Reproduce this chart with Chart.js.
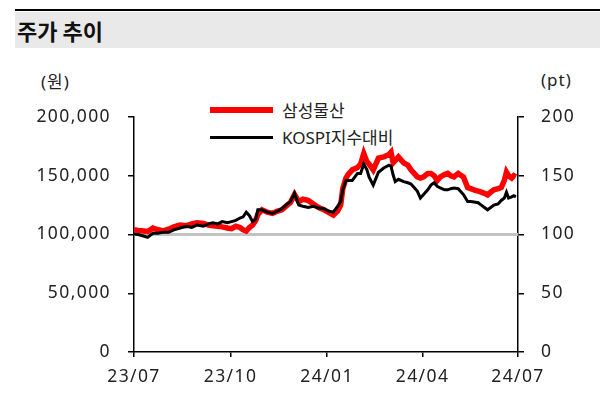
<!DOCTYPE html>
<html>
<head>
<meta charset="utf-8">
<script src="https://cdn.jsdelivr.net/npm/chart.js@4/dist/chart.umd.min.js"></script>
<style>
body{margin:0;background:#fff;font-family:"Noto Sans","Noto Sans CJK KR",sans-serif;}
#wrap{position:relative;width:603px;height:398px;overflow:hidden;}
#topline{position:absolute;left:15px;top:9px;width:585px;height:2px;background:#000;}
#band{position:absolute;left:15px;top:12px;width:585px;height:36px;background:#e9e9e9;}
#title{position:absolute;left:17px;top:14px;font:bold 22px "Noto Sans CJK KR",sans-serif;color:#111;}
.unit{position:absolute;top:68px;font-size:17px;color:#222;letter-spacing:1px;}
.leg{position:absolute;left:210px;font-size:17px;color:#222;}
.leg i{position:absolute;left:0;width:63px;}
.leg span{position:absolute;left:72px;white-space:nowrap;font-family:"Noto Sans","Noto Sans CJK KR",sans-serif;}
canvas{position:absolute;left:0;top:0;}
</style>
</head>
<body>
<div id="wrap">
<div id="topline"></div>
<div id="band"></div>
<div id="title">주가 추이</div>
<div class="unit" style="left:41px">(원)</div>
<div class="unit" style="left:541px">(pt)</div>
<div class="leg" style="top:98px"><i style="top:9px;height:6px;background:#ff0000"></i><span style="top:-1px">삼성물산</span></div>
<div class="leg" style="top:125px"><i style="top:11px;height:3px;background:#000"></i><span style="top:-1px">KOSPI지수대비</span></div>
<canvas id="c" width="603" height="398"></canvas>
</div>
<script>
// days since 2023-07-01
const days=[0,4,9,13,18,23,28,33,38,44,50,55,60,66,71,75,80,84,89,93,97,101,104,107,110,113,116,118,122,127,132,137,141,146,149,153,157,161,166,171,176,181,185,190,194,197,199,202,204,208,213,216,219,222,224,228,233,238,243,245,247,249,252,257,261,264,267,270,273,276,280,283,286,289,292,296,299,302,305,309,312,314,318,321,324,328,331,334,337,340,343,347,350,353,355,357,360,362,364];
// 삼성물산 (원)
const samsung=[104000,103500,103000,102500,105500,104000,103000,104500,106500,108000,107500,109000,110000,109500,108000,107500,107000,106500,105500,105000,107000,106000,104000,103000,106000,108000,112000,117000,121000,119000,118000,120000,121000,125000,127000,134000,128000,130000,129000,126000,123000,121000,119000,116500,120000,125000,139000,148000,151000,155000,157000,160000,169000,162000,160000,155000,165000,166000,168000,170000,161000,163000,166000,161000,159000,155000,152000,149000,148000,149000,152000,152000,150000,146000,149000,151000,152000,150000,149000,152000,150000,149000,140000,139000,138000,137000,136000,135000,133600,136000,138000,139000,140000,146000,153000,150000,148000,150000,149000];
// KOSPI지수대비 (pt)
const kospiRel=[100.5,100,98.7,97.5,101,101,102,102,104,105.5,107,106,108,107,109,110,109,111,110,111,112,114,115,119,116,111,113,121,121,119,118,120,122,126,128,135,125,124,123,124,122.5,122,120,119,124,128,138,146,146,146,152,152,160,155,149,142,153,156.6,159,158,150.6,145,147,145,144,143,140,137,131,134,138,142,144,141,139.6,138,138,139,139.6,139,136,134,128,128,127.7,127,125,123,121,123,125,126,129,131,136,131,132,133,132];
const baseDays=[0,366];
const baseVals=[100,100];
const tickDays=[0,92,184,275,366];
const tickLabels=["23/07","23/10","24/01","24/04","24/07"];

Chart.defaults.font.family="'Noto Sans', sans-serif";
Chart.defaults.font.size=17.5;
Chart.defaults.color="#222";

const pts=(xs,ys)=>xs.map((d,i)=>({x:d,y:ys[i]}));

// wider tick text like the original (canvas state gets reset on resize, so set it late)
const spacing={id:"spacing",
beforeLayout(c){c.ctx.letterSpacing="1.4px";},
beforeDraw(c){c.ctx.letterSpacing="1.4px";}};

new Chart(document.getElementById("c"),{
type:"line",
plugins:[spacing],
data:{
datasets:[
{label:"KOSPI지수대비",data:pts(days,kospiRel),yAxisID:"y1",borderColor:"#000",borderWidth:3,pointRadius:0,order:0},
{label:"삼성물산",data:pts(days,samsung),yAxisID:"y",borderColor:"#ff0000",borderWidth:5.5,pointRadius:0,order:1},
{label:"base",data:pts(baseDays,baseVals),yAxisID:"y1",borderColor:"#c3c3c3",borderWidth:3,pointRadius:0,order:2}
]
},
options:{
animation:false,
responsive:false,
events:[],
layout:{padding:{top:117,left:0,right:0,bottom:0}},
plugins:{legend:{display:false},tooltip:{enabled:false}},
scales:{
x:{
type:"linear",min:0,max:366,
afterFit:s=>{s.height=46;},
afterBuildTicks:s=>{s.ticks=tickDays.map(v=>({value:v}));},
ticks:{callback:(v)=>tickLabels[tickDays.indexOf(v)],padding:10,maxRotation:0,autoSkip:false},
grid:{drawOnChartArea:false,drawTicks:true,tickLength:5,color:"#000",lineWidth:1.5},
border:{display:true,color:"#000",width:1.5}
},
y:{
position:"left",min:0,max:200000,
afterFit:s=>{s.width=134;},
ticks:{stepSize:50000,padding:17},
grid:{drawOnChartArea:false,drawTicks:true,tickLength:6,color:"#000",lineWidth:1.5},
border:{display:true,color:"#000",width:1.5}
},
y1:{
position:"right",min:0,max:200,
afterFit:s=>{s.width=85;},
ticks:{stepSize:50,padding:17},
grid:{drawOnChartArea:false,drawTicks:true,tickLength:6,color:"#000",lineWidth:1.5},
border:{display:true,color:"#000",width:1.5}
}
}
}
});
</script>
</body>
</html>
